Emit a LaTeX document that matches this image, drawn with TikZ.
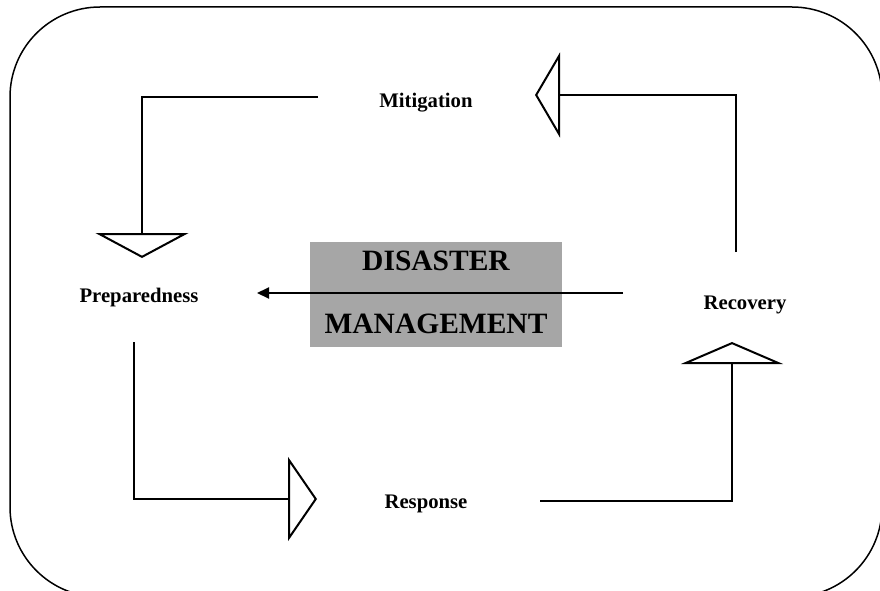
\documentclass[tikz,border=0pt]{standalone}
\usepackage{fontspec}
\setmainfont{Liberation Serif}
\usetikzlibrary{arrows.meta}
\definecolor{boxgray}{HTML}{A6A6A6}
\tikzset{
	phaselabel/.style={font=\fontsize{20.7}{24}\selectfont\bfseries, inner sep=0pt, anchor=base},
	bigtext/.style={font=\fontsize{29.5}{34}\selectfont\bfseries, inner sep=0pt, anchor=base},
	hollow/.style n args={2}{-{Triangle[open,length=#1pt,width=#2pt]}},
}
\begin{document}
\begin{tikzpicture}[x=1pt,y=-1pt,line width=2pt]
	\useasboundingbox (0,0) rectangle (880,591);
	\clip (0,0) rectangle (880,591);
	\draw[line width=1.5pt, rounded corners=90pt] (10,7) rectangle (882,597);
	\node[fill=boxgray, minimum width=252pt, minimum height=105pt, inner sep=0pt] (Core) at (436,294.5) {};
	\node[bigtext](D) at (436,270){DISASTER};
	\node[bigtext](M) at (436,333){MANAGEMENT};
	\node[phaselabel](Mit) at (426,107){Mitigation};
	\node[phaselabel](Prep) at (139,302){Preparedness};
	\node[phaselabel](Rec) at (745,309){Recovery};
	\node[phaselabel](Resp) at (426,508){Response};
	\coordinate (Mit1) at (318,97);
	\coordinate (Mit2) at (535,95);
	\coordinate (Prep1) at (142,258);
	\coordinate (Prep2) at (134,342);
	\coordinate (Resp1) at (317,499);
	\coordinate (Resp2) at (540,501);
	\coordinate (Rec1) at (736,252);
	\coordinate (Rec2) at (732,342);
	\coordinate (Core1) at (623,293);
	\coordinate (Core2) at (257,293);
	\draw[hollow={25}{93}] (Mit1) -| (Prep1);
	\draw[hollow={29}{84}] (Prep2) |- (Resp1);
	\draw[hollow={22}{102}] (Resp2) -| (Rec2);
	\draw[hollow={25}{85}] (Rec1) |- (Mit2);
	\draw[-{Triangle[length=12pt,width=11pt]}] (Core1) -- (Core2);
\end{tikzpicture}
\end{document}
